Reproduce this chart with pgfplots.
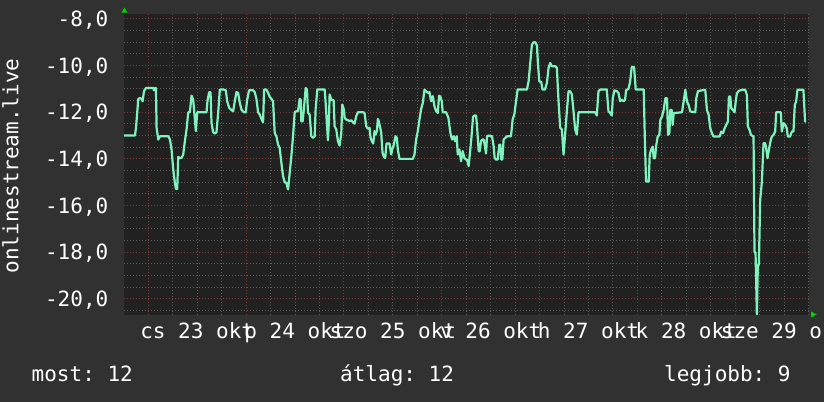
\documentclass[border=0pt]{standalone}
\usepackage{fontspec}
\setmainfont{DejaVu Sans Mono}
\usepackage{pgfplots}
\pgfplotsset{compat=1.18}
\usepackage{pgfplotstable}
\frenchspacing
\definecolor{outerbg}{RGB}{49,49,49}
\definecolor{plotbg}{RGB}{33,33,33}
\definecolor{mingrid}{RGB}{92,92,92}
\definecolor{majgrid}{RGB}{125,56,56}
\definecolor{linec}{RGB}{127,243,190}
\definecolor{arrowc}{RGB}{0,210,0}

\pgfplotstableread{
h v
-5.9 -13.0
-3.27 -13.0
-3.02 -12.67
-2.45 -11.43
-2.04 -11.39
-1.63 -11.43
-1.39 -11.53
-1.06 -11.1
-0.57 -10.96
1.22 -10.96
1.39 -11.06
1.63 -10.96
1.88 -10.96
2.04 -12.67
2.45 -13.17
2.86 -13.03
4.90 -13.03
5.31 -13.17
5.71 -13.6
6.12 -14.46
6.53 -15.03
6.78 -15.29
7.10 -15.29
7.35 -13.91
7.76 -13.96
8.16 -13.96
8.57 -13.81
8.98 -13.24
9.39 -12.74
9.80 -12.0
10.20 -12.0
10.61 -11.29
11.02 -11.46
11.43 -12.31
11.67 -12.81
12.0 -12.0
14.29 -12.0
14.53 -11.49
14.94 -11.14
15.27 -11.14
15.51 -12.46
15.92 -12.86
16.33 -12.91
16.73 -12.86
17.14 -12.03
17.55 -11.03
18.53 -11.03
19.02 -11.06
19.35 -11.53
19.84 -11.81
20.41 -11.91
20.82 -11.96
21.22 -11.53
21.63 -11.14
22.04 -11.17
22.45 -11.6
22.86 -11.89
23.43 -12.0
23.92 -12.0
24.24 -11.49
24.73 -11.06
25.71 -11.06
26.12 -11.14
26.53 -11.43
26.94 -12.0
27.35 -12.1
27.76 -12.29
28.16 -12.43
28.41 -11.03
28.98 -11.03
29.39 -11.17
29.80 -11.34
30.20 -11.43
30.61 -11.53
31.02 -12.89
31.43 -13.03
31.84 -13.39
32.24 -13.53
32.65 -14.17
33.06 -14.74
33.47 -15.0
33.88 -15.03
34.29 -15.31
34.69 -14.6
35.10 -13.89
35.51 -13.03
35.92 -12.0
36.33 -11.96
36.73 -11.96
37.14 -11.43
37.39 -11.46
37.55 -12.39
37.88 -12.39
38.20 -11.81
38.61 -10.96
38.94 -11.03
39.18 -12.03
39.59 -12.1
40.0 -13.03
40.41 -13.1
40.82 -13.03
41.06 -11.86
41.47 -11.03
43.27 -11.03
43.51 -11.6
43.76 -12.31
44.08 -13.2
44.33 -12.31
44.49 -11.24
44.90 -11.46
45.47 -11.49
45.71 -12.6
46.12 -12.74
46.53 -13.24
46.94 -13.43
47.35 -12.89
47.59 -11.67
48.0 -11.89
48.16 -12.24
48.57 -12.31
48.98 -12.34
49.39 -12.39
49.80 -12.34
50.20 -12.43
50.61 -12.49
51.02 -12.17
51.43 -12.0
52.65 -12.0
53.06 -12.03
53.47 -12.6
53.88 -12.71
54.29 -12.67
54.53 -13.1
54.86 -13.24
55.18 -13.34
55.51 -12.81
55.76 -12.96
56.08 -12.81
56.33 -12.29
56.57 -12.39
56.90 -12.67
57.14 -12.86
57.47 -13.74
57.80 -13.91
58.12 -13.96
58.45 -13.34
59.18 -13.34
59.59 -13.81
59.84 -13.6
60.24 -13.39
60.65 -13.03
60.98 -13.1
61.22 -13.6
61.63 -14.0
64.90 -14.0
65.31 -13.81
65.71 -13.17
66.12 -12.81
66.53 -12.31
66.94 -11.86
67.35 -11.6
67.76 -11.03
68.16 -11.1
68.57 -11.17
68.98 -11.14
69.39 -11.53
69.80 -11.31
70.20 -11.74
70.61 -11.96
71.02 -12.03
71.35 -11.29
71.67 -11.34
72.0 -11.53
72.24 -12.0
73.06 -12.0
73.63 -12.24
74.12 -12.89
74.53 -13.17
74.94 -13.03
75.27 -13.24
75.67 -13.03
75.92 -13.81
76.33 -13.6
76.73 -14.1
77.14 -13.67
77.55 -13.96
77.96 -14.03
78.20 -14.03
78.6 -14.31
79.27 -13.1
79.67 -12.2
80.0 -12.14
80.41 -12.14
80.65 -12.6
81.06 -13.67
81.31 -13.67
81.63 -13.24
81.96 -13.17
82.29 -13.17
82.53 -13.39
82.86 -13.77
83.10 -13.03
83.51 -13.0
84.33 -13.03
84.73 -13.46
84.98 -13.96
85.31 -14.03
85.71 -14.03
86.12 -13.39
86.37 -13.39
86.61 -14.03
86.86 -14.03
87.18 -13.17
87.59 -13.1
88.0 -13.03
88.98 -13.03
89.39 -12.31
89.80 -12.1
90.12 -11.67
90.61 -11.03
92.90 -11.03
93.31 -10.67
93.71 -9.89
94.12 -9.1
94.53 -9.0
94.94 -9.0
95.35 -9.14
95.59 -9.89
95.92 -10.67
96.41 -10.71
96.73 -11.03
97.31 -11.03
97.80 -10.74
98.20 -10.1
98.61 -9.89
99.02 -10.03
99.84 -10.03
100.24 -10.1
100.65 -11.53
101.06 -12.67
101.47 -12.74
101.88 -13.81
102.29 -12.89
102.69 -11.96
103.10 -11.1
103.51 -11.1
103.92 -11.24
104.33 -11.96
104.73 -12.74
105.14 -12.96
105.55 -12.0
109.63 -12.0
110.04 -12.14
110.45 -11.1
110.86 -11.03
112.49 -11.03
112.90 -11.96
113.31 -12.03
113.71 -12.14
113.96 -11.39
114.37 -11.06
114.94 -11.1
115.35 -11.17
115.76 -11.53
116.16 -11.46
116.57 -11.53
116.98 -11.46
117.22 -11.06
117.80 -11.0
118.20 -10.71
118.61 -10.06
119.18 -10.06
119.59 -11.03
121.55 -11.03
121.80 -12.97
122.12 -14.97
122.78 -14.97
123.02 -13.83
123.35 -13.61
123.76 -13.47
124.0 -13.97
124.33 -13.97
124.57 -13.47
124.98 -13.04
125.39 -12.97
125.63 -12.33
126.04 -12.19
126.45 -11.9
126.86 -11.4
127.27 -11.4
127.51 -12.97
127.84 -12.9
128.08 -11.9
128.41 -11.9
128.65 -12.54
128.90 -12.04
130.94 -12.0
131.35 -11.54
131.76 -11.04
132.16 -11.54
132.57 -11.69
132.98 -11.97
134.20 -12.0
134.45 -11.4
134.86 -11.09
136.65 -11.04
137.06 -11.9
137.47 -12.11
137.88 -12.69
138.29 -12.9
138.69 -13.04
140.16 -13.04
140.57 -12.83
140.98 -12.9
141.39 -12.69
141.80 -12.54
142.20 -12.4
142.45 -11.33
142.78 -11.33
143.02 -11.83
143.43 -11.9
143.84 -12.0
144.16 -11.47
144.41 -11.19
144.82 -11.09
145.63 -11.04
146.45 -11.04
146.86 -11.26
147.10 -12.61
147.51 -12.76
147.84 -12.97
148.49 -13.04
148.73 -18.0
148.98 -18.0
149.31 -20.66
149.55 -18.54
149.80 -18.54
150.12 -15.76
150.53 -15.0
150.94 -13.33
151.35 -13.33
151.59 -13.54
151.92 -13.97
152.33 -13.54
152.73 -13.19
152.98 -13.04
153.39 -12.97
153.80 -12.83
154.04 -12.0
155.18 -12.0
155.43 -12.83
155.84 -12.47
156.24 -12.54
156.65 -12.69
156.90 -13.04
157.47 -13.04
157.88 -12.83
158.29 -12.83
158.61 -11.69
158.94 -11.54
159.27 -11.04
160.73 -11.04
161.14 -12.4
161.39 -12.4
}\datatable

\begin{document}
\begin{tikzpicture}
\fill[outerbg] (0,0) rectangle (824bp,402bp);
\useasboundingbox (0,0) rectangle (824bp,402bp);
\clip (0,0) rectangle (824bp,402bp);
\begin{axis}[
  at={(124bp,87bp)}, anchor=south west,
  scale only axis, width=685bp, height=301bp,
  xmin=-5.96, xmax=162.1, ymin=-20.69, ymax=-7.79,
  axis line style={draw=none},
  axis background/.style={fill=plotbg},
  xtick={0,24,...,144},
  xticklabels={cs 23 okt, p 24 okt, szo 25 okt, v 26 okt, h 27 okt, k 28 okt, sze 29 okt},
  minor xtick={6,12,18,30,36,42,54,60,66,78,84,90,102,108,114,126,132,138,150,156,162},
  ytick={-20,-18,...,-8},
  yticklabels={{-20,0},{-18,0},{-16,0},{-14,0},{-12,0},{-10,0},{-8,0}},
  minor ytick={-20.5,-19.5,-19,-18.5,-17.5,-17,-16.5,-15.5,-15,-14.5,-13.5,-13,-12.5,-11.5,-11,-10.5,-9.5,-9,-8.5},
  major tick length=0pt, minor tick length=0pt,
  xmajorgrids, ymajorgrids, xminorgrids, yminorgrids,
  major grid style={draw=majgrid, line width=1bp, dash pattern=on 1bp off 2bp},
  minor grid style={draw=mingrid, line width=1bp, dash pattern=on 1bp off 2bp},
  tick label style={font=\fontsize{21bp}{25bp}\selectfont, text=white},
  xticklabel style={anchor=base, inner sep=0pt, xshift=48.9bp, yshift=-24bp},
  yticklabel style={anchor=base east, inner sep=0pt, xshift=-15.5bp, yshift=-7.65bp},
]
\addplot[linec, line width=2.2bp, line join=round] table[x=h, y=v] {\datatable};
\end{axis}
\fill[arrowc] (121.5bp,389.3bp) -- (127.5bp,389.3bp) -- (124.5bp,394.5bp) -- cycle;
\fill[arrowc] (811bp,90.5bp) -- (811bp,84.5bp) -- (816.5bp,87.5bp) -- cycle;
\node[rotate=90, anchor=base, inner sep=0pt, text=white, font=\fontsize{21bp}{25bp}\selectfont] at (18.3bp,236bp) {onlinestream.live};
\begin{scope}[every node/.style={anchor=base west, inner sep=0pt, text=white, font=\fontsize{21bp}{25bp}\selectfont}]
\node at (31.5bp,20.5bp) {most: 12};
\node at (340bp,20.5bp) {átlag: 12};
\node at (664bp,20.5bp) {legjobb: 9};
\end{scope}
\end{tikzpicture}
\end{document}
